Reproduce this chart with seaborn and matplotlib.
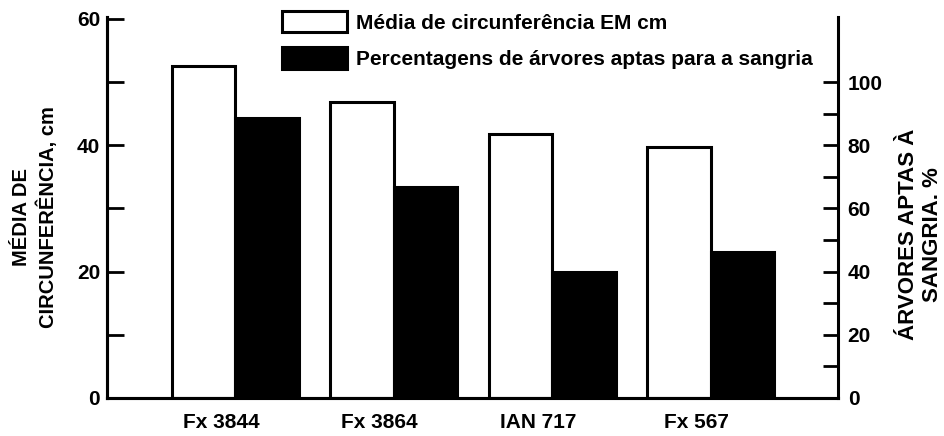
import matplotlib
matplotlib.use('Agg')
import matplotlib.pyplot as plt
import matplotlib.transforms as mtransforms
import seaborn as sns
import pandas as pd
from matplotlib.patches import Patch
from matplotlib.ticker import FixedLocator

# valores
clones = ['Fx 3844', 'Fx 3864', 'IAN 717', 'Fx 567']
circunferencia = [52.5, 46.8, 41.8, 39.7]   # cm, eixo esquerdo
aptas = [88.6, 66.8, 39.9, 46.2]            # %, eixo direito
series = ['Média de circunferência EM cm',
          'Percentagens de árvores aptas para a sangria']

sns.set_theme(style='ticks')
plt.rcParams['font.family'] = ['Liberation Sans', 'DejaVu Sans']
plt.rcParams['font.weight'] = 'bold'
plt.rcParams['text.color'] = 'black'
plt.rcParams['axes.labelcolor'] = 'black'

df_circ = pd.DataFrame({'clone': clones, 'valor': circunferencia, 'serie': series[0]})
df_apt = pd.DataFrame({'clone': clones, 'valor': aptas, 'serie': series[1]})

fig = plt.figure(figsize=(9.45, 4.36), dpi=100)
ax = fig.add_axes([0.1132, 0.0872, 0.7735, 0.8739])
ax2 = ax.twinx()

cores = ['white', 'black']
sns.barplot(data=df_circ, x='clone', y='valor', hue='serie', hue_order=series,
            order=clones, palette=cores, saturation=1, width=0.8, dodge=True,
            edgecolor='black', linewidth=2.2, legend=False, ax=ax)
sns.barplot(data=df_apt, x='clone', y='valor', hue='serie', hue_order=series,
            order=clones, palette=cores, saturation=1, width=0.8, dodge=True,
            edgecolor='black', linewidth=2.2, legend=False, ax=ax2)

ax.set_xlim(-0.808, 3.801)
ax.set_ylim(0, 60.3)
ax2.set_ylim(0, 120.6)

ax.yaxis.set_major_locator(FixedLocator([0, 20, 40, 60]))
ax.yaxis.set_minor_locator(FixedLocator([10, 30, 50]))
ax2.yaxis.set_major_locator(FixedLocator([0, 20, 40, 60, 80, 100]))
ax2.yaxis.set_minor_locator(FixedLocator([10, 30, 50, 70, 90]))

for a in (ax, ax2):
    a.spines['top'].set_visible(False)
    for s in a.spines.values():
        s.set_linewidth(2.2)
        s.set_color('black')
ax.spines['right'].set_visible(False)

ax.tick_params(axis='y', which='both', direction='in', length=12, width=2,
               labelsize=15, pad=5, colors='black')
ax2.tick_params(axis='y', which='both', direction='in', length=11, width=2,
                labelsize=15, pad=7, colors='black')
ax.tick_params(axis='x', length=0, labelsize=15, pad=11, colors='black')

# no original os nomes dos clones ficam um pouco à esquerda do centro do grupo
desloc = mtransforms.ScaledTranslation(-0.14, 0, fig.dpi_scale_trans)
for lbl in ax.get_xticklabels():
    lbl.set_transform(lbl.get_transform() + desloc)

ax.set_xlabel('')
ax2.set_xlabel('')
ax.set_ylabel('MÉDIA DE\nCIRCUNFERÊNCIA, cm', fontsize=14.5, fontweight='bold',
              va='center', linespacing=1.35)
ax.yaxis.set_label_coords(-0.0985, 0.475)
ax2.set_ylabel('ÁRVORES APTAS À\nSANGRIA. %', fontsize=16, fontweight='bold',
               va='center', linespacing=1.2)
ax2.yaxis.set_label_coords(1.1135, 0.43)

handles = [Patch(facecolor='white', edgecolor='black', linewidth=2.2),
           Patch(facecolor='black', edgecolor='black', linewidth=2.2)]
ax2.legend(handles, series, loc='upper left', bbox_to_anchor=(0.2984, 0.975),
           bbox_transform=fig.transFigure, frameon=False, borderpad=0,
           borderaxespad=0, handlelength=3.1, handleheight=1.2,
           handletextpad=0.45, labelspacing=0.7,
           prop={'size': 15, 'weight': 'bold'})

fig.savefig('out.png', dpi=100)
